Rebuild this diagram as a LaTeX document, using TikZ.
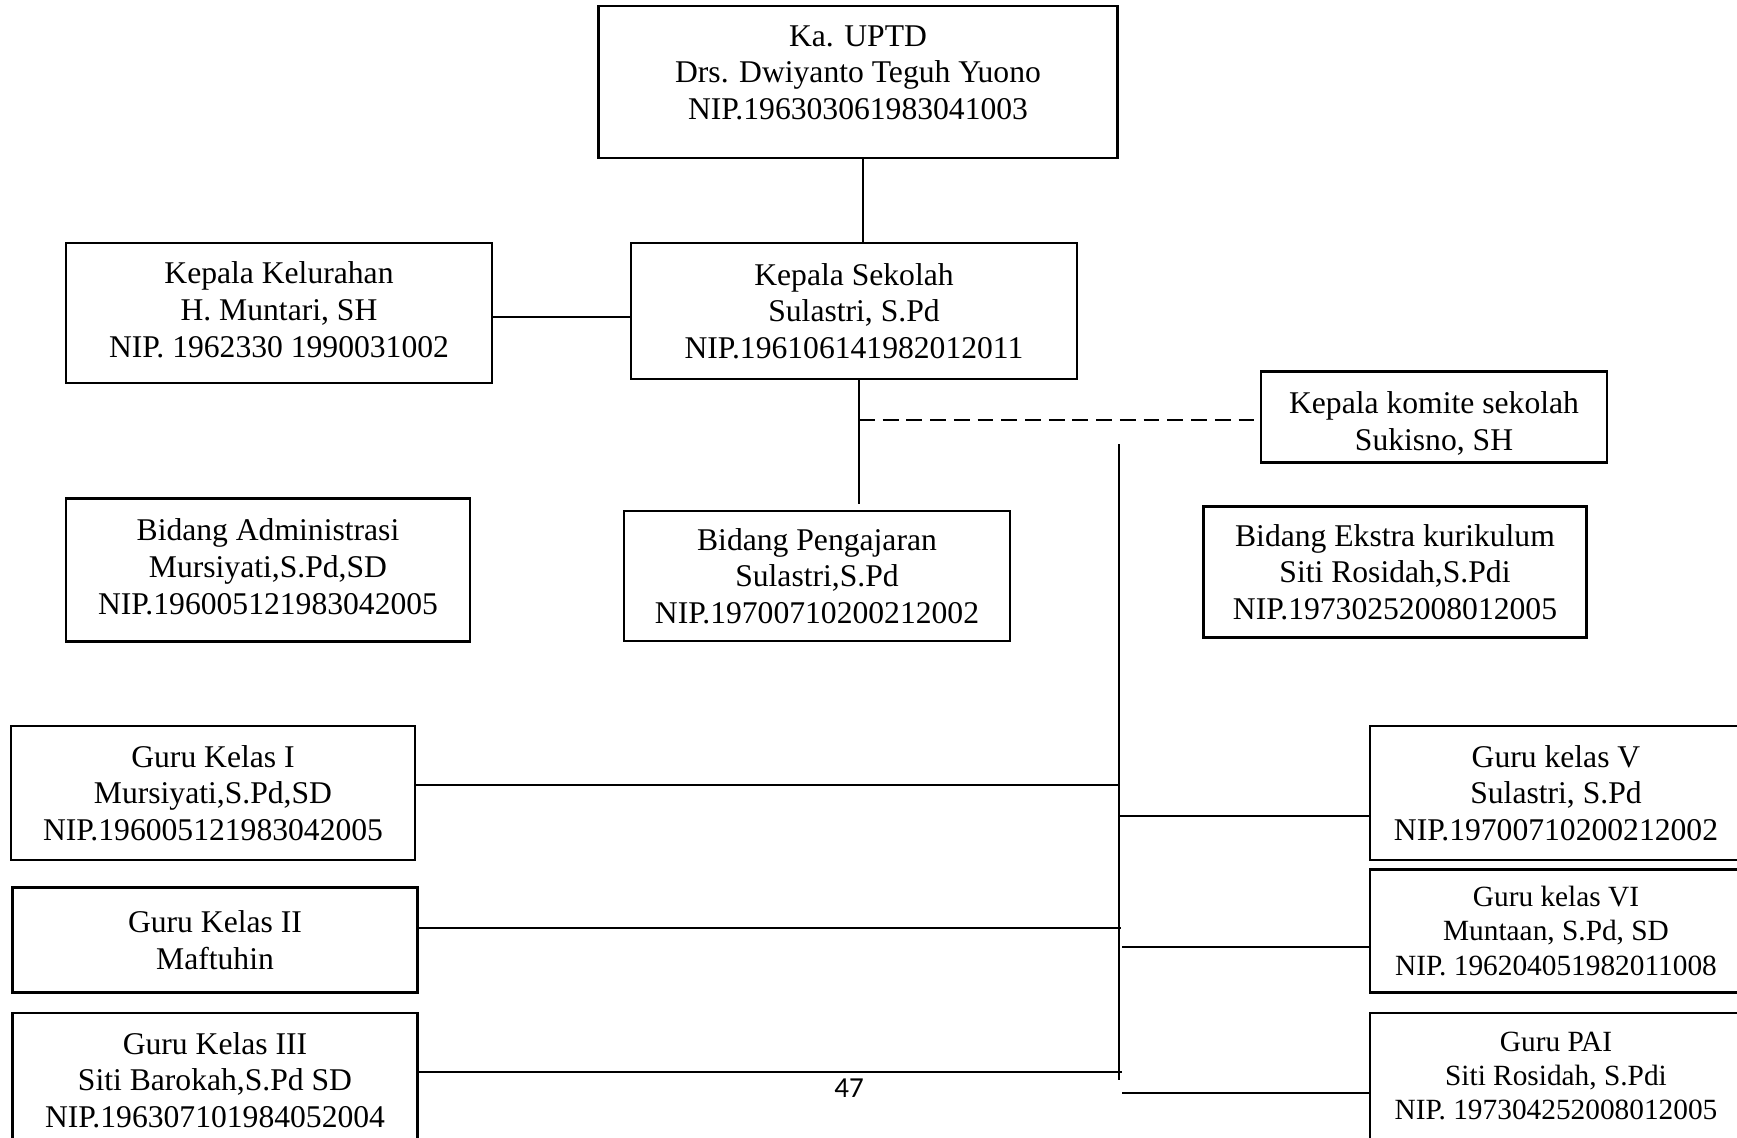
\documentclass[tikz,border=0pt]{standalone}
\usepackage{fontspec}
\setmainfont{Liberation Serif}
\newfontfamily\pagefont{Carlito}

\begin{document}
\begin{tikzpicture}[
    x=0.02cm, y=-0.02cm,
    every node/.style={font=\fontsize{18}{20.8}\selectfont},
    orgbox/.style={draw, line width=1.3pt, align=center, inner sep=0pt},
    smalltext/.style={font=\fontsize{16.7}{19.5}\selectfont},
    link/.style={line width=1.3pt},
    dashlink/.style={line width=1.3pt, dash pattern=on 9pt off 4.5pt}
  ]
    \useasboundingbox (0,0) rectangle (1737,1137);
    % top of the chart
    \node[orgbox, minimum width=10.38cm, minimum height=3.04cm, text depth=11pt] (uptd) at (858,82) {Ka. UPTD\\Drs. Dwiyanto Teguh Yuono\\NIP.196303061983041003};
    \node[orgbox, minimum width=8.52cm, minimum height=2.80cm, text depth=4pt] (kelurahan) at (279,313) {Kepala Kelurahan\\H. Muntari, SH\\NIP. 1962330 1990031002};
    \node[orgbox, minimum width=8.92cm, minimum height=2.72cm] (sekolah) at (854,311) {Kepala Sekolah\\Sulastri, S.Pd\\NIP.196106141982012011};
    \node[orgbox, minimum width=6.92cm, minimum height=1.82cm, text height=40.7pt] (komite) at (1434,417) {Kepala komite sekolah\\Sukisno, SH};
    % bidang
    \node[orgbox, minimum width=8.08cm, minimum height=2.86cm, text depth=4pt] (admin) at (268,570) {Bidang Administrasi\\Mursiyati,S.Pd,SD\\NIP.196005121983042005};
    \node[orgbox, minimum width=7.72cm, minimum height=2.60cm] (ajar) at (817,576) {Bidang Pengajaran\\Sulastri,S.Pd\\NIP.19700710200212002};
    \node[orgbox, minimum width=7.66cm, minimum height=2.62cm] (ekstra) at (1395,572) {Bidang Ekstra kurikulum\\Siti Rosidah,S.Pdi\\NIP.19730252008012005};
    % guru
    \node[orgbox, minimum width=8.08cm, minimum height=2.68cm] (gurui) at (213,793) {Guru Kelas I\\Mursiyati,S.Pd,SD\\NIP.196005121983042005};
    \node[orgbox, minimum width=8.10cm, minimum height=2.10cm] (guruii) at (215,940) {Guru Kelas II\\Maftuhin};
    \node[orgbox, minimum width=8.10cm, minimum height=2.68cm] (guruiii) at (215,1080) {Guru Kelas III\\Siti Barokah,S.Pd SD\\NIP.196307101984052004};
    \node[orgbox, minimum width=7.44cm, minimum height=2.68cm] (guruv) at (1556,793) {Guru kelas V\\Sulastri, S.Pd\\NIP.19700710200212002};
    \node[orgbox, smalltext, minimum width=7.44cm, minimum height=2.46cm] (guruvi) at (1556,931) {Guru kelas VI\\Muntaan, S.Pd, SD\\NIP. 196204051982011008};
    \node[orgbox, smalltext, minimum width=7.44cm, minimum height=2.52cm] (gurupai) at (1556,1076) {Guru PAI\\Siti Rosidah, S.Pdi\\NIP. 197304252008012005};
    \node[font=\pagefont\fontsize{16.5}{20}\selectfont] (pagenum) at (849,1088) {47};
    % lines
    \coordinate (uptdjoin) at (863,158);
    \coordinate (kelrow) at (0,317);
    \coordinate (ajartop) at (859,504);
    \coordinate (dashstart) at (859,420);
    \coordinate (trunktop) at (1119,444);
    \coordinate (trunkbot) at (1119,1080);
    \draw[link] (uptd.south -| uptdjoin) -- (sekolah.north -| uptdjoin);
    \draw[link] (kelurahan.east |- kelrow) -- (sekolah.west |- kelrow);
    \draw[link] (sekolah.south -| ajartop) -- (ajartop);
    \draw[dashlink] (dashstart) -- (dashstart -| komite.west);
    \draw[link] (trunktop) -- (trunkbot);
    \coordinate (bi) at (1119,785);
    \coordinate (bv) at (1119,816);
    \coordinate (bii) at (1121,928);
    \coordinate (bvi) at (1122,947);
    \coordinate (biii) at (1122,1072);
    \coordinate (bpai) at (1122,1093);
    \draw[link] (gurui.east |- bi) -- (bi);
    \draw[link] (bv) -- (guruv.west |- bv);
    \draw[link] (guruii.east |- bii) -- (bii);
    \draw[link] (bvi) -- (guruvi.west |- bvi);
    \draw[link] (guruiii.east |- biii) -- (biii);
    \draw[link] (bpai) -- (gurupai.west |- bpai);
\end{tikzpicture}
\end{document}
